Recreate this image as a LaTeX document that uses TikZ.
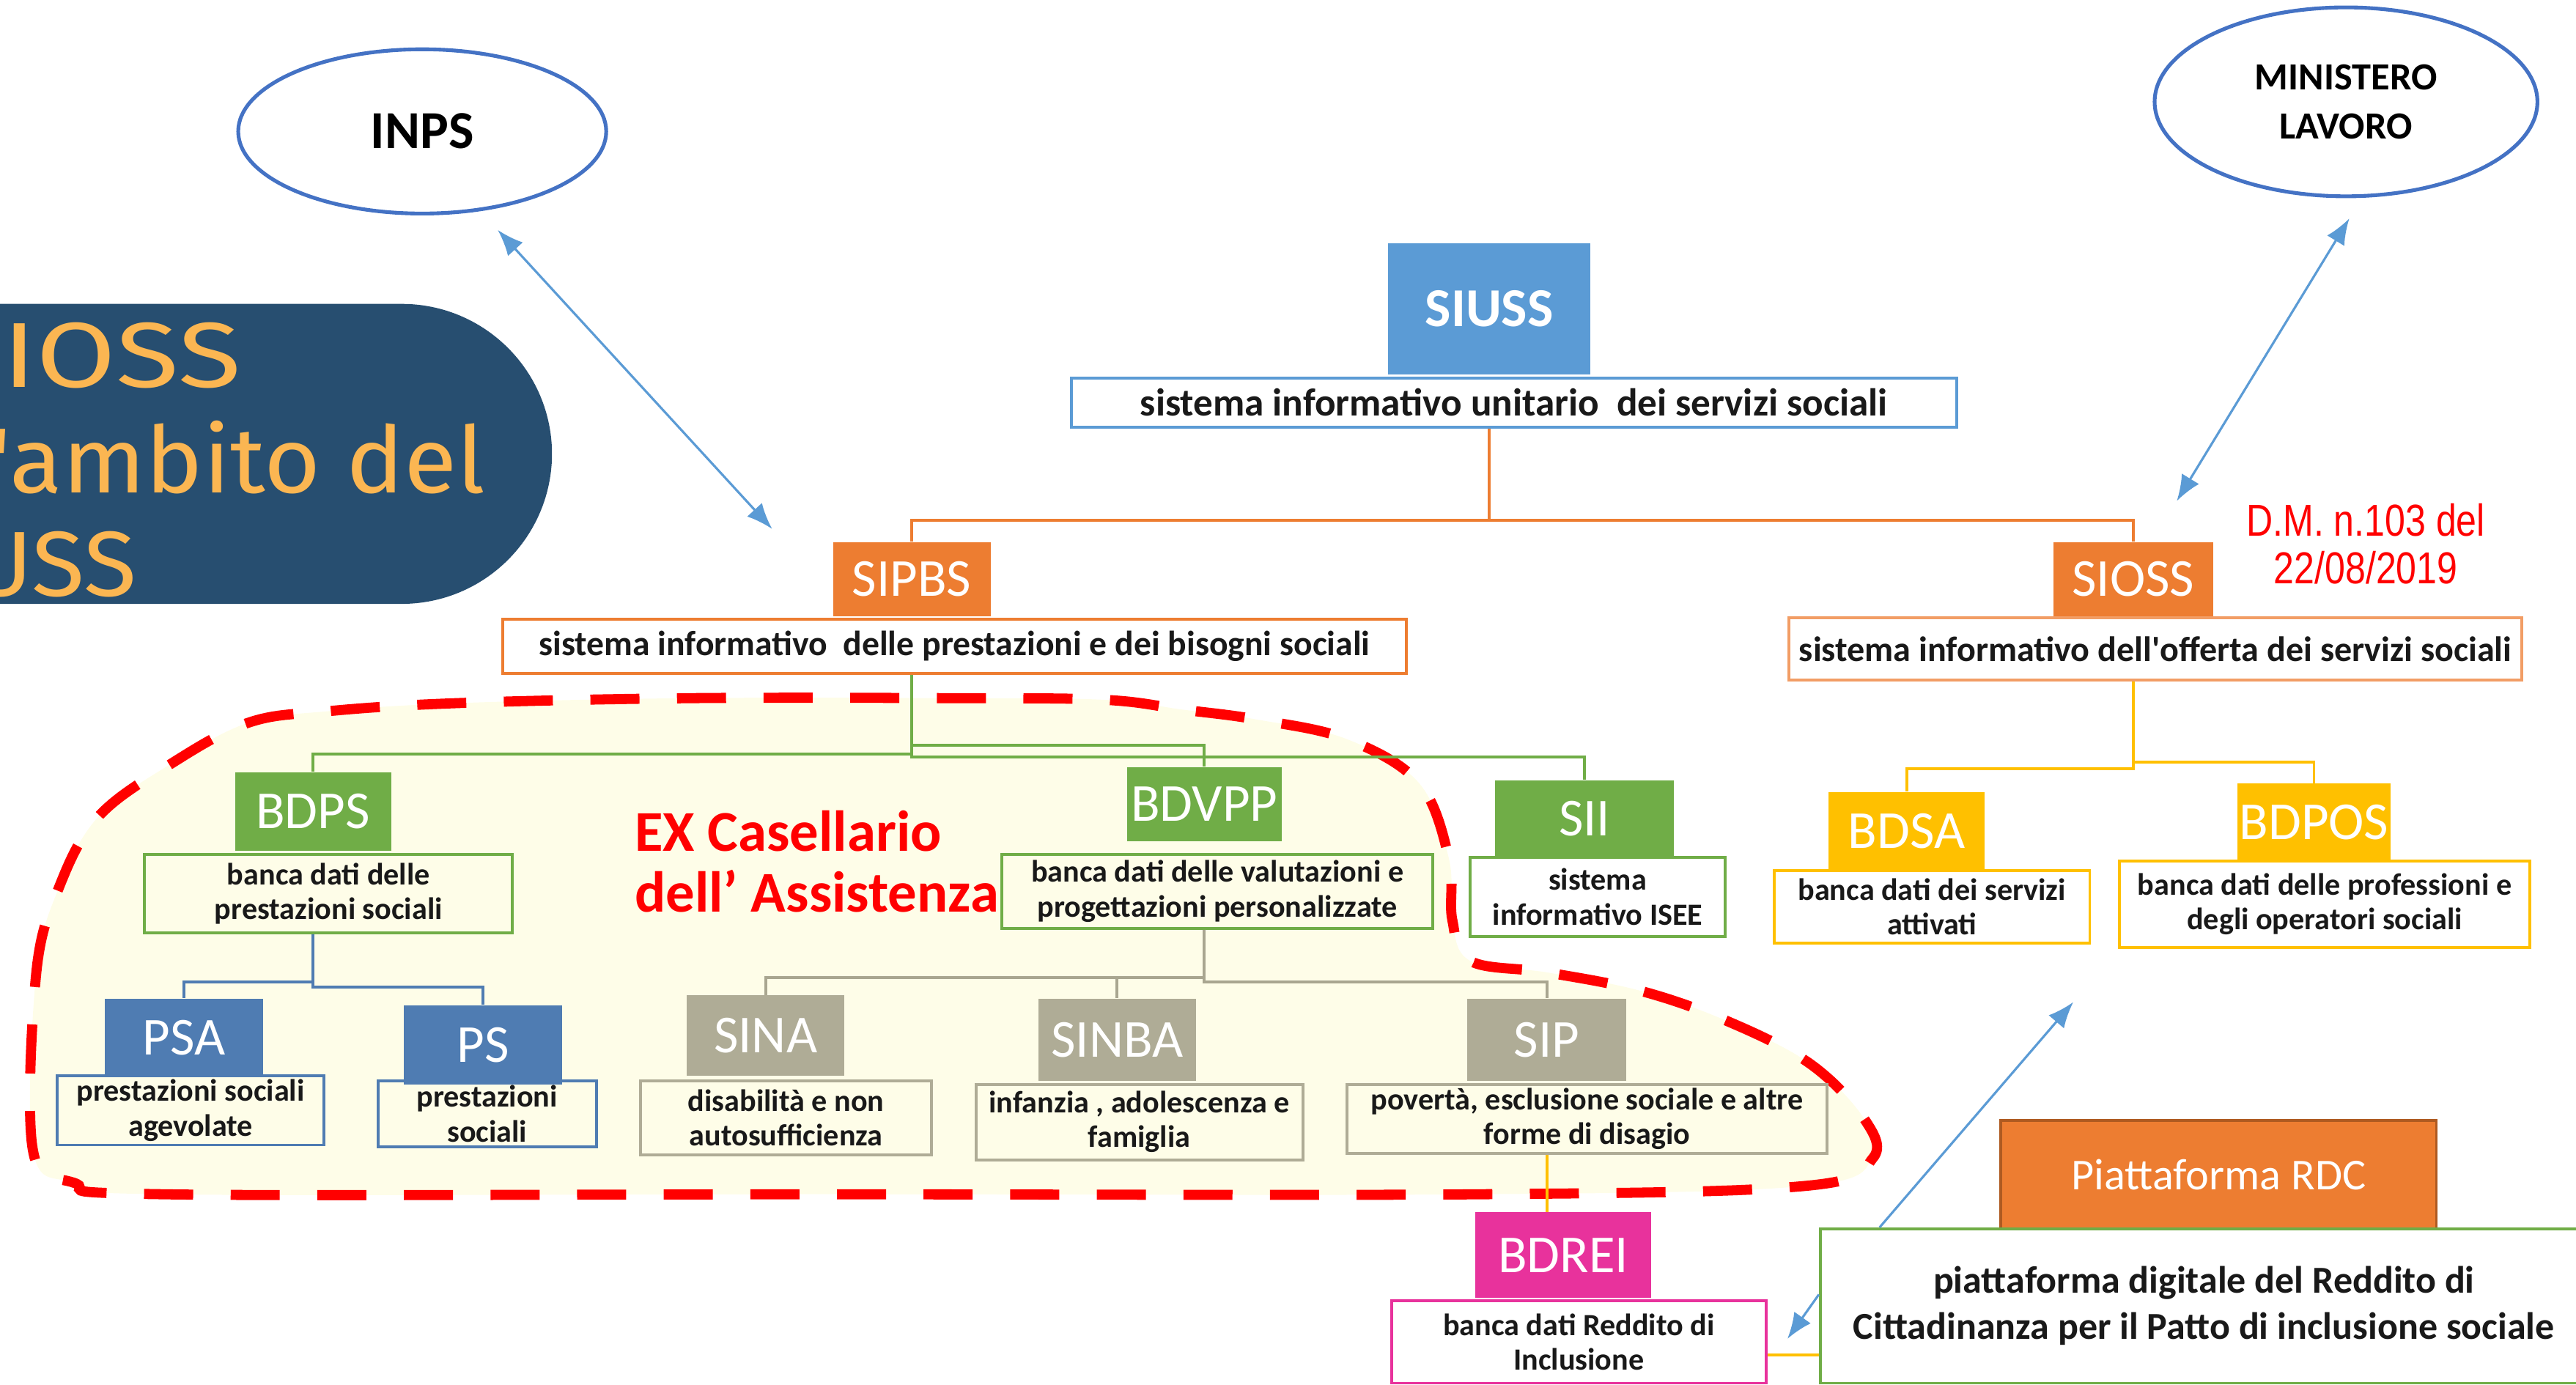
\documentclass[tikz,border=0pt]{standalone}
\usepackage{fontspec}
\setmainfont{Carlito}
\newfontfamily\pillfont[FakeStretch=1.05]{Fira Sans}
\newfontfamily\pillwide[FakeStretch=1.25]{Fira Sans}
\newfontfamily\dmfont[FakeStretch=0.82]{Liberation Sans}
\usetikzlibrary{shapes.geometric,arrows.meta}

\definecolor{bluSiuss}{HTML}{5B9BD5}
\definecolor{arancio}{HTML}{ED7D31}
\definecolor{verde}{HTML}{70AD47}
\definecolor{bluPs}{HTML}{4F7CB2}
\definecolor{grigio}{HTML}{AFAC96}
\definecolor{grigioFilo}{HTML}{A9A690}
\definecolor{giallo}{HTML}{FFC000}
\definecolor{fucsia}{HTML}{E8329C}
\definecolor{bluNotte}{HTML}{274E70}
\definecolor{oroTesto}{HTML}{FBB652}
\definecolor{crema}{HTML}{FEFDE8}
\definecolor{rosso}{HTML}{FF0000}
\definecolor{bluEnte}{HTML}{4472C4}
\definecolor{bluFreccia}{HTML}{5B9BD5}
\definecolor{marroneRdc}{HTML}{AE5A21}

\tikzset{
  tag/.style={fill=#1, text=white, inner sep=0pt, font=\fontsize{18.5}{20}\selectfont},
  desc/.style={draw=#1, line width=1pt, inner sep=0pt, align=center, text=black!90,
    font=\bfseries\fontsize{10.7}{12}\selectfont},
  taglia/.style 2 args={minimum width=#1*0.2mm, minimum height=#2*0.2mm},
  filo/.style={draw=#1, line width=1pt},
  freccia/.style={draw=bluFreccia, line width=0.8pt, >={Latex[length=9pt,width=7pt]}},
  ente/.style={ellipse, draw=bluEnte, line width=1.3pt, align=center, font=\bfseries}
}

\begin{document}
\begin{tikzpicture}[x=0.2mm, y=-0.2mm]
      \useasboundingbox (0,0) rectangle (1568,843);

      % 区域 EX Casellario
      \filldraw[fill=crema, draw=rosso, line width=3.5pt, dash pattern=on 17pt off 13pt]
        plot[smooth cycle, tension=0.6] coordinates {
          (20,700) (22,593) (36,540) (60,497) (104,465) (151,440) (199,433) (279,428)
          (420,425) (580,425) (672,426) (720,432) (765,438) (820,450) (864,477)
          (882,523) (884,560) (895,585) (942,592) (998,603) (1050,621) (1101,647)
          (1134,680) (1140,705) (1098,722) (900,727) (500,727) (100,727) (45,720)};

      % 标题块
      \begin{scope}
        \clip (0,0) rectangle (1568,843);
        \fill[bluNotte, rounded corners=18.3mm] (-300,185) rectangle (336,367.6);
        \node[anchor=base east, text=oroTesto, inner sep=0pt, font=\pillwide\fontsize{32}{34}\selectfont]
          (titA) at (147,235.7) {SIOSS};
        \node[anchor=base east, text=oroTesto, inner sep=0pt, font=\pillfont\fontsize{32}{34}\selectfont]
          (titB) at (296,300) {nell'ambito del};
        \node[anchor=base east, text=oroTesto, inner sep=0pt, font=\pillfont\fontsize{32}{34}\selectfont]
          (titC) at (83.6,362.7) {SIUSS};
      \end{scope}

      % 外部机构
      \node[ente, taglia={224}{100}, font=\bfseries\fontsize{18.5}{20}\selectfont] (inps) at (257,80) {INPS};
      \node[ente, taglia={233}{115}, font=\bfseries\fontsize{13.3}{17}\selectfont] (min) at (1428,62) {MINISTERO\\LAVORO};

      % SIUSS
      \node[tag=bluSiuss, taglia={123}{80}, font=\bfseries\fontsize{19}{20}\selectfont] (siuss) at (906.5,188) {SIUSS};
      \node[desc=bluSiuss, fill=white, taglia={539}{30}, font=\bfseries\fontsize{13.5}{15}\selectfont] (siussd) at (921.5,245)
        {sistema informativo unitario\ \ dei servizi sociali};

      % SIPBS e SIOSS
      \node[tag=arancio, taglia={96}{45}] (sipbs) at (555,352.5) {SIPBS};
      \node[desc=arancio, fill=white, taglia={550}{33}, font=\bfseries\fontsize{12.1}{14}\selectfont] (sipbsd) at (581,393.5)
        {sistema informativo\ \ delle prestazioni e dei bisogni sociali};
      \node[tag=arancio, taglia={97}{45}] (sioss) at (1298.5,352.5) {SIOSS};
      \node[desc=arancio!75!white, fill=white, taglia={446}{38}, font=\bfseries\fontsize{12.2}{14}\selectfont] (siossd) at (1312,395)
        {sistema informativo dell\textquotesingle offerta dei servizi sociali};
      \node[text=rosso, align=center, font=\dmfont\fontsize{15.5}{16.5}\selectfont] (dm) at (1440,331) {D.M. n.103 del\\22/08/2019};

      % banche dati SIPBS
      \node[tag=verde, taglia={95}{48}] (bdps) at (190.5,494) {BDPS};
      \node[desc=verde, taglia={224}{48}] (bdpsd) at (200,544) {banca dati delle\\prestazioni sociali};
      \node[tag=verde, taglia={94}{45}] (bdvpp) at (733,489.5) {BDVPP};
      \node[desc=verde, taglia={262}{45}] (bdvppd) at (741,542.5) {banca dati delle valutazioni e\\progettazioni personalizzate};
      \node[tag=verde, taglia={109}{47}] (sii) at (964.5,498.5) {SII};
      \node[desc=verde, fill=white, taglia={155}{48}] (siid) at (972.5,546) {sistema\\informativo ISEE};

      \node[tag=bluPs, taglia={96}{47}] (psa) at (112,631.5) {PSA};
      \node[desc=bluPs, taglia={162}{42}] (psad) at (116,676) {prestazioni sociali\\agevolate};
      \node[tag=bluPs, taglia={96}{48}] (ps) at (294,636) {PS};
      \node[desc=bluPs, taglia={133}{40}] (psd) at (296.5,678) {prestazioni\\sociali};

      \node[tag=grigio, taglia={96}{49}] (sina) at (466,630.5) {SINA};
      \node[desc=grigio, taglia={177}{45}] (sinad) at (478.5,680.5) {disabilità e non\\autosufficienza};
      \node[tag=grigio, taglia={96}{50}] (sinba) at (680,633) {SINBA};
      \node[desc=grigio, taglia={199}{46}] (sinbad) at (693.5,683) {infanzia , adolescenza e\\famiglia};
      \node[tag=grigio, taglia={97}{50}] (sip) at (941.5,633) {SIP};
      \node[desc=grigio, taglia={292}{42}] (sipd) at (966,681) {povertà, esclusione sociale e altre\\forme di disagio};

      \node[anchor=west, text=rosso, align=left, inner sep=0pt, font=\bfseries\fontsize{20}{21}\selectfont]
        (ex) at (386,524.5) {EX Casellario\\dell’ Assistenza};

      % banche dati SIOSS
      \node[tag=giallo, taglia={95}{48}] (bdsa) at (1160.5,506) {BDSA};
      \node[desc=giallo, fill=white, taglia={192}{44}] (bdsad) at (1176,552) {banca dati dei servizi\\attivati};
      \node[tag=giallo, taglia={93}{47}] (bdpos) at (1408.5,500.5) {BDPOS};
      \node[desc=giallo, fill=white, taglia={250}{53}] (bdposd) at (1415,550.5) {banca dati delle professioni e\\degli operatori sociali};

      % BDREI e RDC
      \node[tag=fucsia, taglia={107}{52}] (bdrei) at (951.5,764) {BDREI};
      \node[desc=fucsia, fill=white, taglia={228}{50}] (bdreid) at (961,817) {banca dati Reddito di\\Inclusione};
      \node[tag=arancio, draw=marroneRdc, line width=1pt, taglia={265}{66}, font=\fontsize{15.3}{17}\selectfont] (rdc) at (1350.5,715) {Piattaforma RDC};
      \node[desc=verde, fill=white, taglia={467}{94}, font=\bfseries\fontsize{13.2}{16}\selectfont] (rdcd) at (1341.5,795)
        {piattaforma digitale del Reddito di\\Cittadinanza per il Patto di inclusione sociale};

      % connettori
      \draw[filo=arancio] (siussd.south -| siuss.south) -- ++(0,56) -| (sipbs.north);
      \draw[filo=arancio] (siussd.south -| siuss.south) -- ++(0,56) -| (sioss.north);
      \draw[filo=verde] (sipbsd.south -| sipbs.south) -- ++(0,48) -| (bdps.north);
      \draw[filo=verde] (sipbsd.south -| sipbs.south) -- ++(0,43) -| (bdvpp.north);
      \draw[filo=verde] (sipbsd.south -| sipbs.south) -- ++(0,50) -| (sii.north);
      \draw[filo=bluPs] (bdpsd.south -| bdps.south) -- ++(0,29) -| (psa.north);
      \draw[filo=bluPs] (bdpsd.south -| bdps.south) -- ++(0,32) -| (ps.north);
      \draw[filo=grigioFilo] (bdvppd.south -| bdvpp.south) -- ++(0,29) -| (sina.north);
      \draw[filo=grigioFilo] (bdvppd.south -| bdvpp.south) -- ++(0,29) -| (sinba.north);
      \draw[filo=grigioFilo] (bdvppd.south -| bdvpp.south) -- ++(0,32) -| (sip.north);
      \draw[filo=giallo] (sipd.south -| sip.south) -- (bdrei.north -| sip.south);
      \draw[filo=giallo] (siossd.south -| sioss.south) -- ++(0,53) -| (bdsa.north);
      \draw[filo=giallo] (siossd.south -| sioss.south) -- ++(0,49) -| (bdpos.north);
      \draw[filo=giallo] (bdreid.east) ++(0,8) coordinate (gY) -- (gY -| rdcd.west);

      % frecce
      \coordinate (fInpsA) at (303,140);
      \coordinate (fInpsB) at (470,322);
      \coordinate (fMinA) at (1430,133);
      \coordinate (fMinB) at (1325,305);
      \coordinate (fRdcA) at (1262,610);
      \coordinate (fRdcB) at (1088,815);
      \draw[freccia, <->] (fInpsA) -- (fInpsB);
      \draw[freccia, <->] (fMinA) -- (fMinB);
      \draw[freccia, ->] (rdcd.north west) ++(37,0) -- (fRdcA);
      \draw[freccia, ->] (rdcd.west) ++(0,-7) -- (fRdcB);
    \end{tikzpicture}
\end{document}
